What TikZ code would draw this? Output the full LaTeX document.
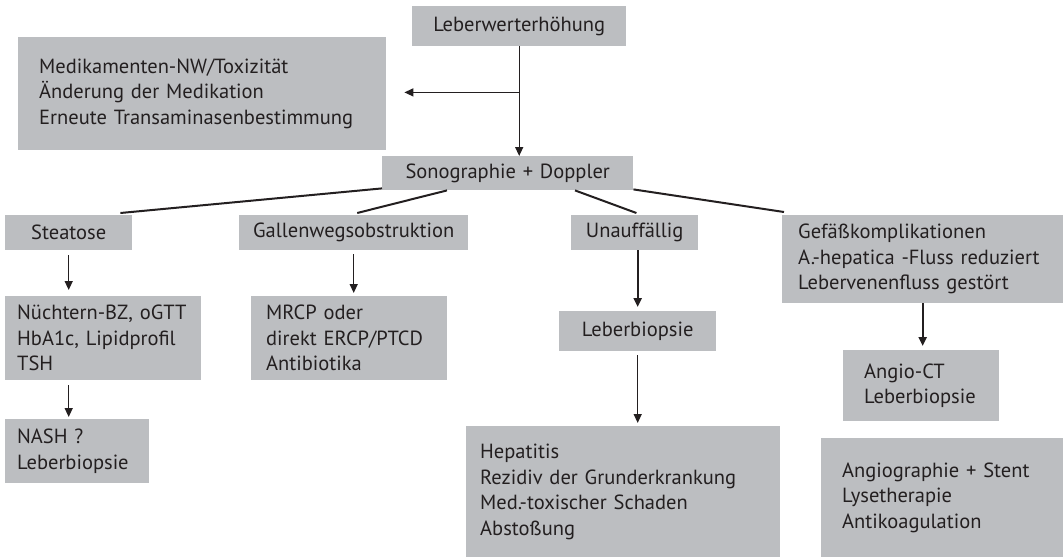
\documentclass[tikz,border=0pt]{standalone}
\usepackage{fontspec}
\setmainfont{PT Sans}
\usetikzlibrary{arrows.meta,calc}
\definecolor{boxgray}{RGB}{188,190,193}
\definecolor{txt}{RGB}{35,31,32}
\newcommand\GBox[8][left]{%
  \pgfmathsetmacro\bw{#5-#3}%
  \pgfmathsetmacro\bh{#6-#4}%
  \pgfmathsetmacro\tw{#5-#3-2*#7}%
  \node[gbox, align=#1, anchor=north west, minimum width=\bw pt, minimum height=\bh pt,
        text width=\tw pt, inner xsep=#7pt] (#2) at (#3,#4) {#8};}
\tikzset{
  gbox/.style={fill=boxgray, text=txt, inner ysep=0pt, font=\fontsize{20.5}{25.5}\selectfont},
  arr/.style={draw=txt, line width=1.4pt, -{Triangle[length=9pt,width=8pt]}},
  thickarr/.style={arr, line width=2.4pt},
  branch/.style={draw=txt, line width=2pt}
}
\begin{document}
\begin{tikzpicture}[x=1pt,y=-1pt]
\useasboundingbox (0,0) rectangle (1063,557);
\GBox[center]{lw}{412}{6}{626}{46}{5}{Leberwerterhöhung}
\GBox{med}{18}{37}{386}{150}{21}{Medikamenten-NW/Toxizität\\Änderung der Medikation\\Erneute Transaminasenbestimmung}
\GBox[center]{sono}{382}{156}{633}{190}{5}{Sonographie + Doppler}
\GBox[center]{steatose}{5}{215}{132}{250}{5}{Steatose}
\GBox[center]{gallen}{239}{215}{468}{250}{5}{Gallenwegsobstruktion}
\GBox[center]{unauff}{571}{215}{698}{250}{5}{Unauffällig}
\GBox{gefaess}{782}{215}{1063}{303}{16}{Gefäßkomplikationen\\A.-hepatica -Fluss reduziert\\Lebervenenfluss gestört}
\GBox{nuechtern}{5}{296}{201}{380}{12}{Nüchtern-BZ, oGTT\\HbA1c, Lipidprofil\\TSH}
\GBox{mrcp}{251}{296}{447}{380}{15}{MRCP oder\\direkt ERCP/PTCD\\Antibiotika}
\GBox{nash}{5}{419}{149}{483}{12}{NASH ?\\Leberbiopsie}
\GBox[center]{lb}{559}{311}{716}{351}{5}{Leberbiopsie}
\GBox{hep}{466}{426}{780}{557}{14}{Hepatitis\\Rezidiv der Grunderkrankung\\Med.-toxischer Schaden\\Abstoßung}
\GBox{angioct}{843}{350}{999}{421}{21}{Angio-CT\\Leberbiopsie}
\GBox{angiogr}{821}{438}{1063}{557}{21}{Angiographie + Stent\\Lysetherapie\\Antikoagulation}
% arrows
\coordinate (jn) at ($(lw.south)+(0,46)$);
\draw[arr] (lw.south) -- (lw.south |- sono.north);
\draw[arr, shorten >=18pt] (jn) -- (jn -| med.east);
\draw[arr, shorten <=5pt, shorten >=6pt] (steatose.south) -- (steatose.south |- nuechtern.north);
\draw[arr, shorten <=5pt, shorten >=2pt] (nuechtern.south -| steatose.south) -- (nash.north -| steatose.south);
\draw[arr, shorten <=4pt, shorten >=3pt] (gallen.south) -- (gallen.south |- mrcp.north);
\draw[thickarr, shorten >=4pt] (unauff.south -| lb.north) -- (lb.north);
\draw[arr, shorten <=4pt, shorten >=3pt] (lb.south) -- (lb.south |- hep.north);
\draw[thickarr, shorten >=4pt] (gefaess.south) -- (gefaess.south |- angioct.north);
% branches
\draw[branch] ($(sono.south west)+(0,-2)$) -- ($(steatose.north east)+(-12,-2)$);
\draw[branch] ($(sono.south west)+(65,0)$) -- ($(gallen.north)+(3.5,-2)$);
\draw[branch] ($(sono.south west)+(193,0)$) -- ($(unauff.north east)+(-62,-2)$);
\draw[branch] ($(sono.south east)+(0,-1)$) -- ($(gefaess.north west)+(2,-3)$);
\end{tikzpicture}
\end{document}
